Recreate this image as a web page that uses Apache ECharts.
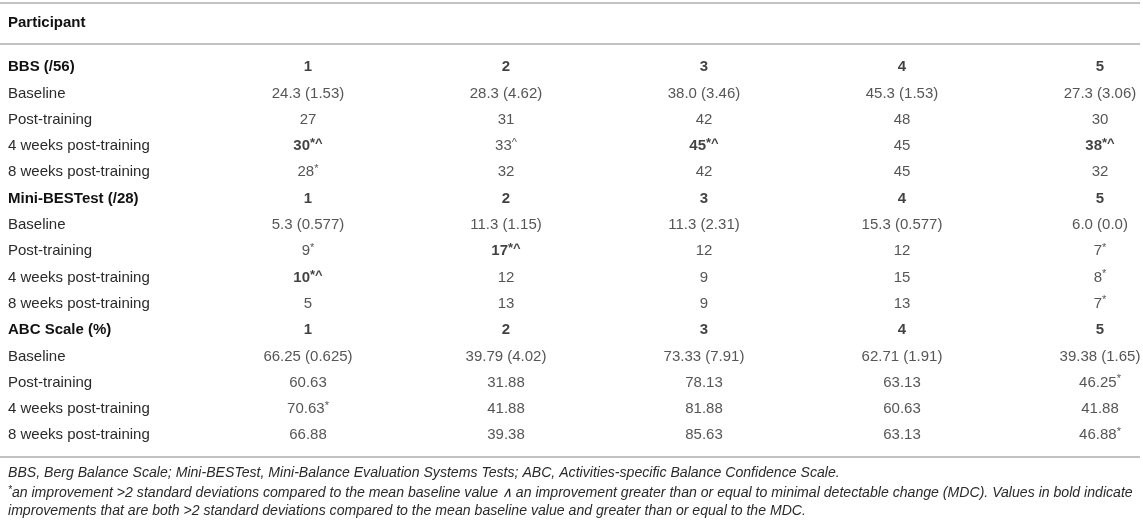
<!DOCTYPE html>
<html>
<head>
<meta charset="utf-8">
<script src="https://cdn.jsdelivr.net/npm/echarts@6/dist/echarts.min.js"></script>
<style>
  html, body { margin: 0; padding: 0; background: #fff; }
  #table1 { width: 1143px; height: 525px; }
</style>
</head>
<body>
<div id="table1"></div>
<script>
// participants are the columns, rowLabels the rows of the table
var participants = [1, 2, 3, 4, 5];

var rowLabels = [
    'BBS (/56)', 'Baseline', 'Post-training', '4 weeks post-training', '8 weeks post-training',
    'Mini-BESTest (/28)', 'Baseline', 'Post-training', '4 weeks post-training', '8 weeks post-training',
    'ABC Scale (%)', 'Baseline', 'Post-training', '4 weeks post-training', '8 weeks post-training'
];
var sectionRows = [0, 5, 10];

var bbsValues = [
    ['24.3 (1.53)', '28.3 (4.62)', '38.0 (3.46)', '45.3 (1.53)', '27.3 (3.06)'],
    ['27', '31', '42', '48', '30'],
    ['30*^', '33^', '45*^', '45', '38*^'],
    ['28*', '32', '42', '45', '32']
];
var miniValues = [
    ['5.3 (0.577)', '11.3 (1.15)', '11.3 (2.31)', '15.3 (0.577)', '6.0 (0.0)'],
    ['9*', '17*^', '12', '12', '7*'],
    ['10*^', '12', '9', '15', '8*'],
    ['5', '13', '9', '13', '7*']
];
var abcValues = [
    ['66.25 (0.625)', '39.79 (4.02)', '73.33 (7.91)', '62.71 (1.91)', '39.38 (1.65)'],
    ['60.63', '31.88', '78.13', '63.13', '46.25*'],
    ['70.63*', '41.88', '81.88', '60.63', '41.88'],
    ['66.88', '39.38', '85.63', '63.13', '46.88*']
];

// [row, participant] of the values printed in bold
var boldCells = [[3, 1], [3, 3], [3, 5], [7, 2], [8, 1]];

var footnotes = [
    'BBS, Berg Balance Scale; Mini-BESTest, Mini-Balance Evaluation Systems Tests; ABC, Activities-specific Balance Confidence Scale.',
    'an improvement >2 standard deviations compared to the mean baseline value \u2227 an improvement greater than or equal to minimal detectable change (MDC). Values in bold indicate',
    'improvements that are both >2 standard deviations compared to the mean baseline value and greater than or equal to the MDC.'
];

var textColor = '#2a2a2a';
var boldColor = '#111';
var ruleColor = '#c2c2c2';

function isBold(row, p) {
    for (var i = 0; i < boldCells.length; i++) {
        if (boldCells[i][0] === row && boldCells[i][1] === p) return true;
    }
    return false;
}

// one scatter point per cell, its label is the cell text
var cells = [];
[bbsValues, miniValues, abcValues].forEach(function (section, s) {
    var head = sectionRows[s];
    participants.forEach(function (p) {
        cells.push({ value: [p, head], text: String(p), bold: true });
    });
    section.forEach(function (vals, k) {
        vals.forEach(function (v, j) {
            var row = head + 1 + k;
            cells.push({ value: [participants[j], row], text: v, bold: isBold(row, participants[j]) });
        });
    });
});

function cellFormatter(params) {
    var d = params.data;
    var m = d.text.match(/^(.*?)([*^]*)$/);
    var main = m[1], mark = m[2];
    var s = d.bold ? '{b|' + main + '}' : '{n|' + main + '}';
    if (mark) s += d.bold ? '{bs|' + mark + '}' : '{ns|' + mark + '}';
    return s;
}

var font = '"Liberation Sans", Arial, Helvetica, sans-serif';
var noteFont = 'italic 14.1px ' + font;

// participant 1 sits at x=308, one participant step is 198px
var colStep = 198;
var xMin = 1 - 308 / colStep;

var option = {
    animation: false,
    textStyle: { fontFamily: font },
    title: {
        text: 'Participant',
        left: 8,
        top: 15,
        padding: 0,
        textStyle: { fontFamily: font, fontSize: 15, fontWeight: 'bold', color: boldColor }
    },
    grid: {
        left: 0,
        right: 0,
        top: 54,
        height: 394.5,
        outerBoundsMode: 'none'
    },
    xAxis: {
        type: 'value',
        min: xMin,
        max: xMin + 1143 / colStep,
        show: false
    },
    yAxis: {
        type: 'category',
        inverse: true,
        data: rowLabels,
        axisLine: { show: false },
        axisTick: { show: false },
        splitLine: { show: false },
        axisLabel: {
            inside: true,
            margin: 8,
            align: 'left',
            interval: 0,
            formatter: function (v, i) {
                return sectionRows.indexOf(i) >= 0 ? '{h|' + v + '}' : '{n|' + v + '}';
            },
            rich: {
                h: { fontFamily: font, fontSize: 15, fontWeight: 'bold', color: boldColor },
                n: { fontFamily: font, fontSize: 15, color: textColor }
            }
        }
    },
    series: [{
        type: 'scatter',
        silent: true,
        symbolSize: 1,
        itemStyle: { color: 'rgba(0,0,0,0)' },
        label: {
            show: true,
            position: 'inside',
            formatter: cellFormatter,
            rich: {
                n: { fontFamily: font, fontSize: 15, color: textColor, lineHeight: 18 },
                b: { fontFamily: font, fontSize: 15, fontWeight: 'bold', color: boldColor, lineHeight: 18 },
                ns: { fontFamily: font, fontSize: 11, color: textColor, lineHeight: 12, verticalAlign: 'top' },
                bs: { fontFamily: font, fontSize: 13, fontWeight: 'bold', color: boldColor, lineHeight: 14, verticalAlign: 'top' }
            }
        },
        data: cells
    }],
    graphic: [
        { type: 'line', shape: { x1: 0, y1: 3, x2: 1140, y2: 3 }, style: { stroke: ruleColor, lineWidth: 2 } },
        { type: 'line', shape: { x1: 0, y1: 44, x2: 1140, y2: 44 }, style: { stroke: ruleColor, lineWidth: 2 } },
        { type: 'line', shape: { x1: 0, y1: 457, x2: 1140, y2: 457 }, style: { stroke: ruleColor, lineWidth: 2 } },
        {
            type: 'text', left: 8, top: 466,
            style: { text: footnotes[0], font: noteFont, fill: textColor }
        },
        {
            type: 'text', left: 8, top: 485,
            style: {
                text: '{s|*}{t|' + footnotes[1] + '}',
                rich: {
                    s: { fontFamily: font, fontStyle: 'italic', fontSize: 10, lineHeight: 10, verticalAlign: 'top', fill: textColor, color: textColor },
                    t: { fontFamily: font, fontStyle: 'italic', fontSize: 14.1, lineHeight: 16, fill: textColor, color: textColor }
                }
            }
        },
        {
            type: 'text', left: 8, top: 504,
            style: { text: footnotes[2], font: noteFont, fill: textColor }
        }
    ]
};

var myChart = echarts.init(document.getElementById('table1'));
myChart.setOption(option);
</script>
</body>
</html>
